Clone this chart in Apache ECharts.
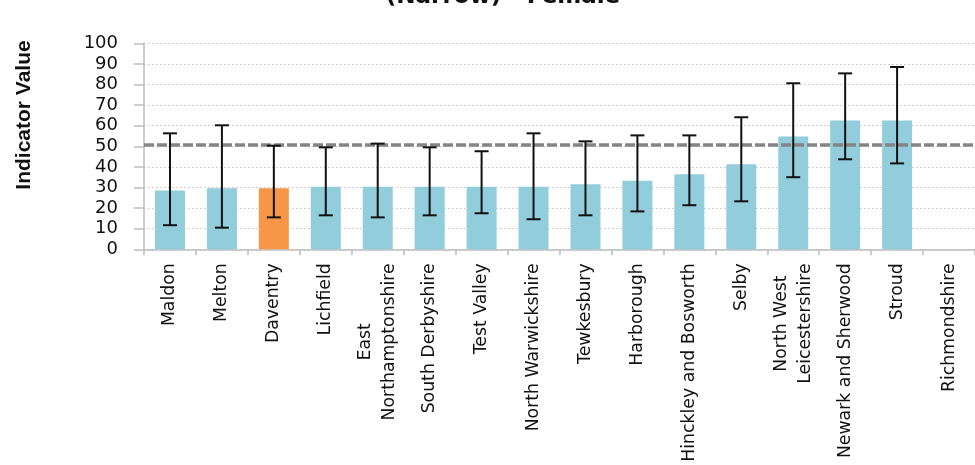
<!DOCTYPE html>
<html>
<head>
<meta charset="utf-8">
<script src="https://cdn.jsdelivr.net/npm/echarts@6/dist/echarts.min.js"></script>
<style>
html,body{margin:0;padding:0;background:#fff;}
#chart{width:975px;height:465px;}
</style>
</head>
<body>
<div id="chart"></div>
<script>
const titleText = '(Narrow) - Female';
const yAxisTitle = 'Indicator Value';
const categories = ['Maldon','Melton','Daventry','Lichfield','East Northamptonshire','South Derbyshire','Test Valley','North Warwickshire','Tewkesbury','Harborough','Hinckley and Bosworth','Selby','North West Leicestershire','Newark and Sherwood','Stroud','Richmondshire'];
const tickLabels = ['Maldon','Melton','Daventry','Lichfield','East\nNorthamptonshire','South Derbyshire','Test Valley','North Warwickshire','Tewkesbury','Harborough','Hinckley and Bosworth','Selby','North West\nLeicestershire','Newark and Sherwood','Stroud','Richmondshire'];
const values = [28.5, 29.6, 29.6, 30.4, 30.4, 30.4, 30.4, 30.4, 31.6, 33.3, 36.4, 41.3, 54.7, 62.5, 62.5, null];
const lowerCI = [11.7, 10.5, 15.5, 16.5, 15.5, 16.5, 17.5, 14.6, 16.5, 18.4, 21.4, 23.3, 35.0, 43.7, 41.7, null];
const upperCI = [56.3, 60.2, 50.3, 49.5, 51.3, 49.5, 47.6, 56.3, 52.4, 55.3, 55.3, 64.1, 80.6, 85.4, 88.5, null];
const benchmark = 50.7;
const highlighted = 'Daventry';
const yTicks = [0, 100, 10];

const BLUE = '#92CDDC', ORANGE = '#F79646';
const chart = echarts.init(document.getElementById('chart'));

const barData = values.map((v, i) => ({
  value: v,
  itemStyle: { color: categories[i] === highlighted ? ORANGE : BLUE }
}));
const errData = values.map((v, i) => [i, lowerCI[i], upperCI[i]]).filter(d => d[1] != null);

chart.setOption({
  animation: false,
  backgroundColor: '#fff',
  graphic: [
    { type: 'text', x: 0, y: 0, style: { text: titleText, x: 503, y: 9, align: 'center', verticalAlign: 'bottom', font: 'bold 23px "DejaVu Sans"', fill: '#111' } },
    { type: 'text', x: 24, y: 115, rotation: Math.PI / 2, style: { text: yAxisTitle, x: 0, y: 0, align: 'center', verticalAlign: 'middle', font: 'bold 21px "Liberation Sans"', fill: '#111' } }
  ],
  grid: { left: 144, right: 0, top: 43.3, bottom: 215.7, outerBoundsMode: 'none', containLabel: false },
  xAxis: {
    type: 'category',
    data: categories,
    axisLine: { lineStyle: { color: '#bdbdbd', width: 1.5 } },
    axisTick: { show: true, length: 6, lineStyle: { color: '#bdbdbd', width: 1.5 } },
    axisLabel: {
      interval: 0,
      rotate: 90,
      margin: 14,
      formatter: (val, idx) => tickLabels[idx].split('\n').map(s => '{c|' + s + '}').join('\n'),
      rich: { c: { align: 'center', fontSize: 17.3, fontFamily: '"DejaVu Sans"', color: '#111', lineHeight: 24 } }
    }
  },
  yAxis: {
    type: 'value',
    min: yTicks[0], max: yTicks[1], interval: yTicks[2],
    axisLine: { show: true, lineStyle: { color: '#bdbdbd', width: 1.5 } },
    axisTick: { show: true, length: 10, lineStyle: { color: '#bdbdbd', width: 1.5 } },
    axisLabel: { margin: 26, fontSize: 18, fontFamily: '"DejaVu Sans"', color: '#111' },
    splitLine: { show: true, lineStyle: { color: '#c4c4c4', type: [1.5, 2.5], width: 1.2 } }
  },
  series: [
    {
      type: 'bar',
      data: barData,
      barWidth: 30,
      z: 2,
      markLine: {
        silent: true,
        symbol: 'none',
        label: { show: false },
        lineStyle: { color: '#858585', type: [10, 3], width: 3.5 },
        data: [{ yAxis: benchmark }],
        z: 3
      }
    },
    {
      type: 'custom',
      z: 5,
      data: errData,
      renderItem: function (params, api) {
        const x = api.value(0);
        const lo = api.coord([x, api.value(1)]);
        const hi = api.coord([x, api.value(2)]);
        const hw = 7;
        const st = { stroke: '#111', lineWidth: 2 };
        return {
          type: 'group',
          children: [
            { type: 'line', shape: { x1: lo[0], y1: lo[1], x2: hi[0], y2: hi[1] }, style: st },
            { type: 'line', shape: { x1: lo[0] - hw, y1: lo[1], x2: lo[0] + hw, y2: lo[1] }, style: st },
            { type: 'line', shape: { x1: hi[0] - hw, y1: hi[1], x2: hi[0] + hw, y2: hi[1] }, style: st }
          ]
        };
      }
    }
  ]
});
</script>
</body>
</html>
